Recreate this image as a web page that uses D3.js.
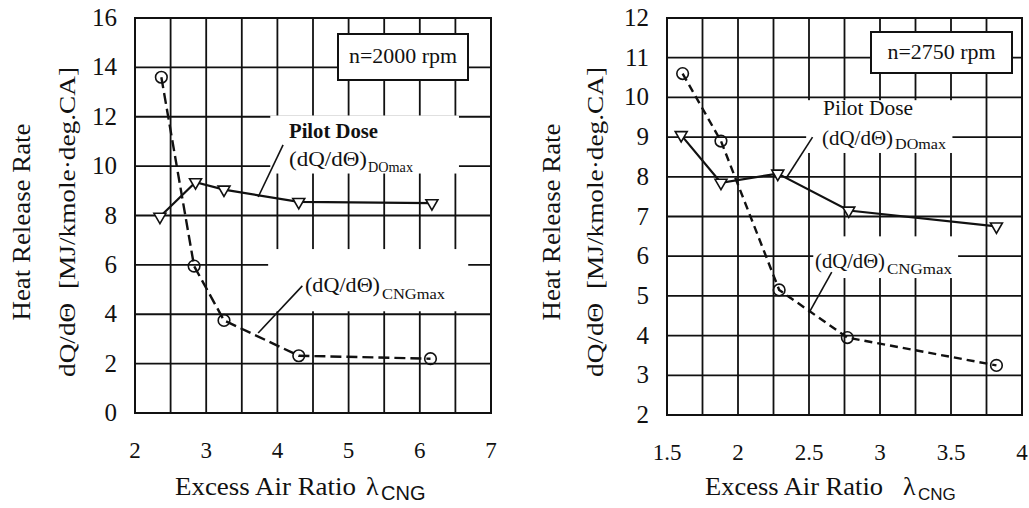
<!DOCTYPE html>
<html><head><meta charset="utf-8">
<script src="https://cdn.jsdelivr.net/npm/d3@7"></script>
<style>body{margin:0;background:#fff}svg text{white-space:pre}</style>
</head><body>
<svg id="c" width="1029" height="508"></svg>
<script>
// ---------- data ----------
const leftLambdaCNG = [2.37, 2.83, 3.25, 4.30, 6.15];
const leftCNGmax    = [13.6, 5.95, 3.75, 2.32, 2.20];
const leftLambdaDO  = [2.35, 2.85, 3.25, 4.30, 6.17];
const leftDOmax     = [7.95, 9.35, 9.05, 8.55, 8.50];

const rightLambdaCNG = [1.61, 1.88, 2.29, 2.77, 3.82];
const rightCNGmax    = [10.6, 8.90, 5.15, 3.95, 3.25];
const rightLambdaDO  = [1.60, 1.88, 2.28, 2.78, 3.82];
const rightDOmax     = [9.05, 7.85, 8.08, 7.15, 6.75];

const leftXTicks  = [2, 3, 4, 5, 6, 7];
const leftYTicks  = [0, 2, 4, 6, 8, 10, 12, 14, 16];
const rightXTicks = [1.5, 2, 2.5, 3, 3.5, 4];
const rightYTicks = [2, 3, 4, 5, 6, 7, 8, 9, 10, 11, 12];
const leftSpeed  = "n=2000 rpm";
const rightSpeed = "n=2750 rpm";

// ---------- layout ----------
const FONT = "'Liberation Serif','Times New Roman',serif";
const SANS = "'Liberation Sans',Arial,sans-serif";
const INK = "#111";
const svg = d3.select("#c");

const panels = [
  { xd:[2,7], yd:[0,16], xr:[135,491], yr:[413,18], xStep:0.5, yStep:2,
    xTicks:leftXTicks, yTicks:leftYTicks, fmt:d3.format("d"),
    cx:leftLambdaCNG, cy:leftCNGmax, dx:leftLambdaDO, dy:leftDOmax,
    speed:leftSpeed, box:[338,34,130,46],
    yt1x:30, yt2x:75, ytY:222, xtStart:175, xtLen:181, lamX:366, subFs:20,
    dash:"11,5", boldPilot:true,
    pilot:{x:289, y:138, len:89},
    doLbl:{x:289, y:166, len:78, sx:368, sy:172, slen:45, sfs:14},
    cngLbl:{x:305, y:292, len:75, sx:382, sy:299, slen:63, sfs:15},
    doLead:[[4.08,10.86],[3.73,8.75]], cngLead:[[4.35,5.15],[3.73,3.24]],
    masks:[[3.9,12.05,6.55,9.7],[3.87,6.64,6.68,4.12]] },
  { xd:[1.5,4], yd:[2,12], xr:[667,1022], yr:[415,18], xStep:0.25, yStep:1,
    xTicks:rightXTicks, yTicks:rightYTicks, fmt:d => String(d),
    cx:rightLambdaCNG, cy:rightCNGmax, dx:rightLambdaDO, dy:rightDOmax,
    speed:rightSpeed, box:[871,32,141,41],
    yt1x:560, yt2x:603, ytY:222, xtStart:705, xtLen:178, lamX:903, subFs:17,
    dash:"8,5", boldPilot:false,
    pilot:{x:823, y:115, len:90},
    doLbl:{x:822, y:145, len:71, sx:895, sy:149, slen:51, sfs:15},
    cngLbl:{x:815, y:268, len:70, sx:887, sy:274, slen:65, sfs:15},
    doLead:[[2.525,9.0],[2.34,7.97]], cngLead:[[2.66,5.6],[2.50,4.57]],
    masks:[[2.48,9.93,3.51,8.6],[2.53,6.5,3.55,5.45]] }
];

function txt(g, x, y, s, fs, len, extra) {
  const t = g.append("text").attr("x", x).attr("y", y)
    .attr("font-family", FONT).attr("font-size", fs).attr("fill", INK).text(s);
  if (len) t.attr("textLength", len).attr("lengthAdjust", "spacingAndGlyphs");
  if (extra) extra(t);
  return t;
}

panels.forEach(p => {
  const x = d3.scaleLinear().domain(p.xd).range(p.xr);
  const y = d3.scaleLinear().domain(p.yd).range(p.yr);
  const g = svg.append("g");

  // grid
  const xs = d3.range(p.xd[0], p.xd[1] + 1e-9, p.xStep);
  const ys = d3.range(p.yd[0], p.yd[1] + 1e-9, p.yStep);
  g.selectAll(".vx").data(xs).join("line")
    .attr("x1", d => x(d)).attr("x2", d => x(d))
    .attr("y1", y(p.yd[0])).attr("y2", y(p.yd[1]))
    .attr("stroke", INK).attr("stroke-width", 1.8);
  g.selectAll(".hy").data(ys).join("line")
    .attr("x1", x(p.xd[0])).attr("x2", x(p.xd[1]))
    .attr("y1", d => y(d)).attr("y2", d => y(d))
    .attr("stroke", INK).attr("stroke-width", 1.8);

  // white areas behind labels
  p.masks.forEach(m => {
    g.append("rect").attr("x", x(m[0])).attr("y", y(m[1]))
      .attr("width", x(m[2]) - x(m[0])).attr("height", y(m[3]) - y(m[1]))
      .attr("fill", "#fff");
  });

  // frame
  g.append("rect").attr("x", x(p.xd[0])).attr("y", y(p.yd[1]))
    .attr("width", x(p.xd[1]) - x(p.xd[0])).attr("height", y(p.yd[0]) - y(p.yd[1]))
    .attr("fill", "none").attr("stroke", INK).attr("stroke-width", 2);

  // speed box
  g.append("rect").attr("x", p.box[0]).attr("y", p.box[1])
    .attr("width", p.box[2]).attr("height", p.box[3])
    .attr("fill", "#fff").attr("stroke", INK).attr("stroke-width", 2);
  txt(g, p.box[0] + (p.box[2] - 108) / 2, p.box[1] + p.box[3] / 2 + 6, p.speed, 20, 108);

  // tick labels
  g.selectAll(".xt").data(p.xTicks).join("text")
    .attr("x", d => x(d)).attr("y", y(p.yd[0]) + 45)
    .attr("text-anchor", "middle").attr("font-family", FONT).attr("font-size", 23)
    .attr("fill", INK).text(p.fmt);
  g.selectAll(".yt").data(p.yTicks).join("text")
    .attr("x", x(p.xd[0]) - 18).attr("y", d => y(d) + 8)
    .attr("text-anchor", "end").attr("font-family", FONT).attr("font-size", 25)
    .attr("fill", INK).text(d => d);

  // axis titles
  g.append("text").attr("transform", `translate(${p.yt1x},${p.ytY}) rotate(-90)`)
    .attr("text-anchor", "middle").attr("font-family", FONT).attr("font-size", 25)
    .attr("textLength", 197).attr("lengthAdjust", "spacingAndGlyphs")
    .attr("fill", INK).text("Heat Release Rate");
  g.append("text").attr("transform", `translate(${p.yt2x},${p.ytY}) rotate(-90)`)
    .attr("text-anchor", "middle").attr("font-family", FONT).attr("font-size", 24)
    .attr("textLength", 310).attr("lengthAdjust", "spacingAndGlyphs")
    .attr("fill", INK).text("dQ/d\u0398  [MJ/kmole\u00b7deg.CA]");
  txt(g, p.xtStart, 495, "Excess Air Ratio", 26, p.xtLen);
  txt(g, p.lamX, 495, "\u03bb", 26);
  g.append("text").attr("x", p.lamX + 15).attr("y", 500)
    .attr("font-family", SANS).attr("font-size", p.subFs).attr("fill", INK).text("CNG");

  // data lines
  const line = d3.line().x(d => x(d[0])).y(d => y(d[1]));
  const cng = d3.zip(p.cx, p.cy), dose = d3.zip(p.dx, p.dy);
  g.append("path").attr("d", line(dose)).attr("fill", "none")
    .attr("stroke", INK).attr("stroke-width", 2.2);
  g.append("path").attr("d", line(cng)).attr("fill", "none")
    .attr("stroke", INK).attr("stroke-width", 2.4).attr("stroke-dasharray", p.dash);

  // markers
  g.selectAll(".ci").data(cng).join("circle")
    .attr("cx", d => x(d[0])).attr("cy", d => y(d[1])).attr("r", 5.8)
    .attr("fill", "none").attr("stroke", INK).attr("stroke-width", 1.6);
  const tri = d3.symbol().type(d3.symbolTriangle).size(62);
  g.selectAll(".tr").data(dose).join("path")
    .attr("d", tri())
    .attr("transform", d => `translate(${x(d[0])},${y(d[1])}) rotate(180)`)
    .attr("fill", "#fff").attr("stroke", INK).attr("stroke-width", 1.6);

  // leaders
  [p.doLead, p.cngLead].forEach(l => {
    g.append("line").attr("x1", x(l[0][0])).attr("y1", y(l[0][1]))
      .attr("x2", x(l[1][0])).attr("y2", y(l[1][1]))
      .attr("stroke", INK).attr("stroke-width", 1.6);
  });

  // annotations
  txt(g, p.pilot.x, p.pilot.y, "Pilot Dose", p.boldPilot ? 20 : 21, p.pilot.len,
      t => t.attr("font-weight", p.boldPilot ? "bold" : "normal"));
  [p.doLbl, p.cngLbl].forEach((L, i) => {
    txt(g, L.x, L.y, "(dQ/d\u0398)", 21, L.len);
    txt(g, L.sx, L.sy, i === 0 ? "DOmax" : "CNGmax", L.sfs, L.slen);
  });
});
</script>
</body></html>
